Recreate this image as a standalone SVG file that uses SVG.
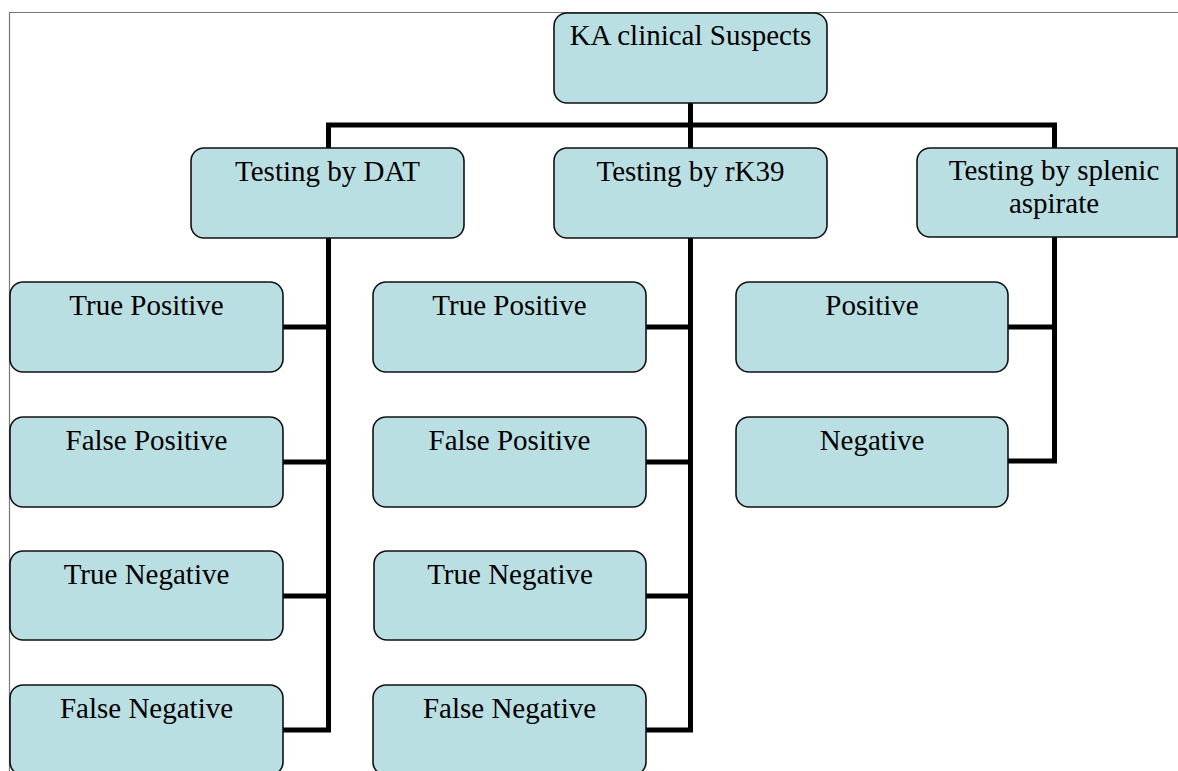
<svg xmlns="http://www.w3.org/2000/svg" width="1178" height="771" viewBox="0 0 1178 771">
  <style>
    .box { fill: #badfe3; stroke: #111; stroke-width: 1.6; }
    .lbl { font-size: 29px; fill: #000; text-anchor: middle; }
    .con { fill: none; stroke: #000; stroke-width: 5; stroke-linejoin: miter; stroke-linecap: butt; }
    .frame { fill: none; stroke: #777; stroke-width: 1.2; }
  </style>
  <rect width="1178" height="771" fill="#fff"/>
  <polyline class="frame" points="9.5,771 9.5,12.5 1178,12.5"/>

  <g id="connectors">
    <polyline class="con" points="328.5,148 328.5,125 1054.5,125 1054.5,148"/>
    <line class="con" x1="690.5" y1="103" x2="690.5" y2="148"/>
    <polyline class="con" points="328.5,238 328.5,730 283,730"/>
    <line class="con" x1="283" y1="327" x2="331" y2="327"/>
    <line class="con" x1="283" y1="462" x2="331" y2="462"/>
    <line class="con" x1="283" y1="596" x2="331" y2="596"/>
    <polyline class="con" points="690.5,238 690.5,730 646,730"/>
    <line class="con" x1="646" y1="327" x2="693" y2="327"/>
    <line class="con" x1="646" y1="462" x2="693" y2="462"/>
    <line class="con" x1="646" y1="596" x2="693" y2="596"/>
    <polyline class="con" points="1054.5,237 1054.5,461 1008,461"/>
    <line class="con" x1="1008" y1="327" x2="1057" y2="327"/>
  </g>

  <g font-family="'Liberation Serif', 'Times New Roman', 'DejaVu Serif', serif">
  <g id="ka">
    <rect class="box" x="554" y="13" width="273" height="90" rx="13"/>
    <text class="lbl" x="690.5" y="45">KA clinical Suspects</text>
  </g>
  <g id="dat">
    <rect class="box" x="191" y="148" width="273" height="90" rx="13"/>
    <text class="lbl" x="327.5" y="181">Testing by DAT</text>
  </g>
  <g id="rk39">
    <rect class="box" x="554" y="148" width="273" height="90" rx="13"/>
    <text class="lbl" x="690.5" y="181">Testing by rK39</text>
  </g>
  <g id="splenic">
    <path class="box" d="M930,148 H1177 V237 H930 A13 13 0 0 1 917 224 V161 A13 13 0 0 1 930 148 Z"/>
    <text class="lbl" x="1054" y="180">Testing by splenic</text>
    <text class="lbl" x="1054" y="213">aspirate</text>
  </g>
  <g id="dat-tp">
    <rect class="box" x="10" y="282" width="273" height="90" rx="13"/>
    <text class="lbl" x="146.5" y="315">True Positive</text>
  </g>
  <g id="dat-fp">
    <rect class="box" x="10" y="417" width="273" height="90" rx="13"/>
    <text class="lbl" x="146.5" y="450">False Positive</text>
  </g>
  <g id="dat-tn">
    <rect class="box" x="10" y="551" width="273" height="89" rx="13"/>
    <text class="lbl" x="146.5" y="584">True Negative</text>
  </g>
  <g id="dat-fn">
    <rect class="box" x="10" y="685" width="273" height="90" rx="13"/>
    <text class="lbl" x="146.5" y="718">False Negative</text>
  </g>
  <g id="rk39-tp">
    <rect class="box" x="373" y="282" width="273" height="90" rx="13"/>
    <text class="lbl" x="509.5" y="315">True Positive</text>
  </g>
  <g id="rk39-fp">
    <rect class="box" x="373" y="417" width="273" height="90" rx="13"/>
    <text class="lbl" x="509.5" y="450">False Positive</text>
  </g>
  <g id="rk39-tn">
    <rect class="box" x="374" y="551" width="272" height="89" rx="13"/>
    <text class="lbl" x="510" y="584">True Negative</text>
  </g>
  <g id="rk39-fn">
    <rect class="box" x="373" y="685" width="273" height="90" rx="13"/>
    <text class="lbl" x="509.5" y="718">False Negative</text>
  </g>
  <g id="sp-pos">
    <rect class="box" x="736" y="282" width="272" height="90" rx="13"/>
    <text class="lbl" x="872" y="315">Positive</text>
  </g>
  <g id="sp-neg">
    <rect class="box" x="736" y="417" width="272" height="90" rx="13"/>
    <text class="lbl" x="872" y="450">Negative</text>
  </g>
  </g>
</svg>
